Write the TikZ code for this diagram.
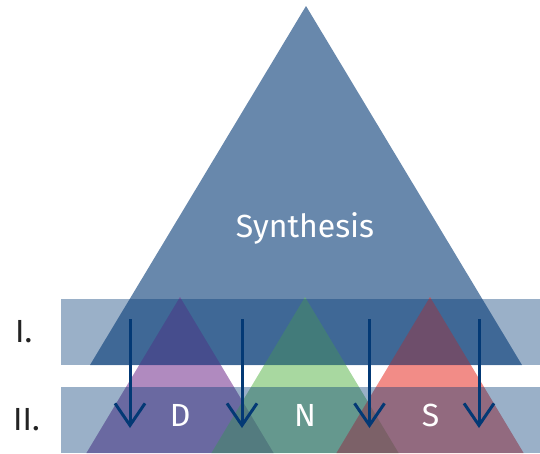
\documentclass[tikz,border=0pt]{standalone}
\usepackage{fontspec}
\setmainfont{Fira Sans}
\usetikzlibrary{arrows.meta}
\definecolor{navy}{RGB}{3,57,117}
\definecolor{dpur}{RGB}{123,60,148}
\definecolor{ngrn}{RGB}{110,190,97}
\definecolor{sred}{RGB}{233,63,55}
\definecolor{lbl}{RGB}{35,35,35}
\tikzset{
  bigtri/.style={fill=navy,fill opacity=0.6,draw=none},
  smalltri/.style={fill opacity=0.6,draw=none},
  band/.style={fill=navy,fill opacity=0.4,draw=none},
  arr/.style={draw=navy,line width=3pt,-{Straight Barb[length=22pt,width=30pt,line width=3pt]}},
  wtext/.style={text=white,font=\fontsize{32}{36}\selectfont,inner sep=0pt,anchor=base},
  rtext/.style={text=lbl,font=\fontsize{32}{36}\selectfont,inner sep=0pt,anchor=base west}
}
\begin{document}
\begin{tikzpicture}[x=1pt,y=-1pt]
\useasboundingbox (0,0) rectangle (540,453);
% big triangle
\fill[bigtri] (306,6) -- (522,365) -- (90,365) -- cycle;
% small triangles
\fill[smalltri,fill=dpur] (180,297) -- (273.6,453) -- (86.4,453) -- cycle;
\fill[smalltri,fill=ngrn] (305,297) -- (398.6,453) -- (211.4,453) -- cycle;
\fill[smalltri,fill=sred] (430,297) -- (523.6,453) -- (336.4,453) -- cycle;
% bands
\fill[band] (61,299) rectangle (540,365);
\fill[band] (61,387) rectangle (540,453);
% arrows
\coordinate (a1s) at (130,319); \coordinate (a1e) at (130,428);
\coordinate (a2s) at (242,319); \coordinate (a2e) at (242,428);
\coordinate (a3s) at (369.5,319); \coordinate (a3e) at (369.5,428);
\coordinate (a4s) at (479,319); \coordinate (a4e) at (479,428);
\draw[arr] (a1s) -- (a1e);
\draw[arr] (a2s) -- (a2e);
\draw[arr] (a3s) -- (a3e);
\draw[arr] (a4s) -- (a4e);
% texts
\node[wtext] (syn) at (305,237) {Synthesis};
\node[wtext] (dl) at (180.3,426) {D};
\node[wtext] (nl) at (305,426) {N};
\node[wtext] (sl) at (430.5,426) {S};
\node[rtext] (l1) at (15,342.7) {I.};
\node[rtext] (l2) at (13,430.7) {II.};
\end{tikzpicture}
\end{document}
